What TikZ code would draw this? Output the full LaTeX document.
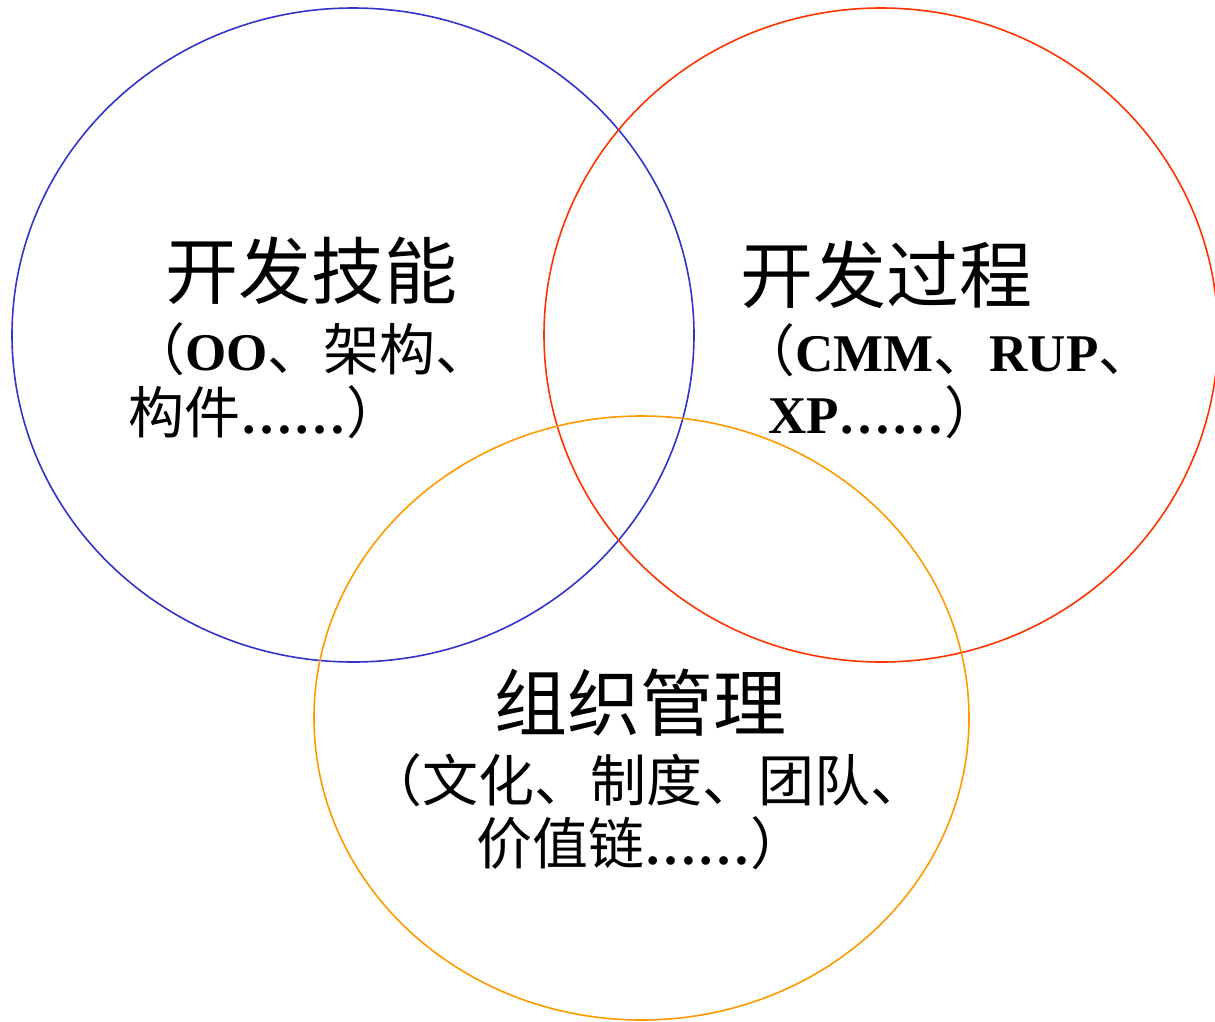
\documentclass[tikz,border=0pt]{standalone}
\usepackage{fontspec}
\setmainfont{Liberation Serif}
\newfontfamily\cjk{Noto Sans CJK SC}
\newcommand\cj[1]{{\cjk\mdseries\fontsize{56}{56}\selectfont #1}}
\definecolor{cblue}{RGB}{51,51,204}
\definecolor{cred}{RGB}{255,51,0}
\definecolor{corange}{RGB}{255,153,0}
\begin{document}
\begin{tikzpicture}[x=1pt,y=-1pt,
  ring/.style={line width=1.6pt},
  title/.style={anchor=west,inner sep=0pt,font=\cjk\fontsize{73}{73}\selectfont},
  sub/.style={anchor=west,inner sep=0pt,font=\fontsize{53}{53}\selectfont\bfseries}]
\useasboundingbox (0,0) rectangle (1215,1021);
\draw[ring,cblue] (353,335) ellipse [x radius=341pt, y radius=327pt];
\draw[ring,cred] (881,335) ellipse [x radius=337pt, y radius=327pt];
\draw[ring,corange] (641.5,718) ellipse [x radius=327.5pt, y radius=302pt];
\node[title] (t1) at (165,271) {开发技能};
\node[sub] (a1) at (129,349) {\cj{（}OO\cj{、架构、}};
\node[sub] (a2) at (128,412) {\cj{构件}……\cj{）}};
\node[title] (t2) at (740,275) {开发过程};
\node[sub] (b1) at (739,350) {\cj{（}CMM\cj{、}RUP\cj{、}};
\node[sub] (b2) at (768,412) {XP……\cj{）}};
\node[title] (t3) at (494,703) {组织管理};
\node[sub] (c1) at (366,780) {\cj{（文化、制度、团队、}};
\node[sub] (c2) at (476,843) {\cj{价值链}……\cj{）}};
\end{tikzpicture}
\end{document}
